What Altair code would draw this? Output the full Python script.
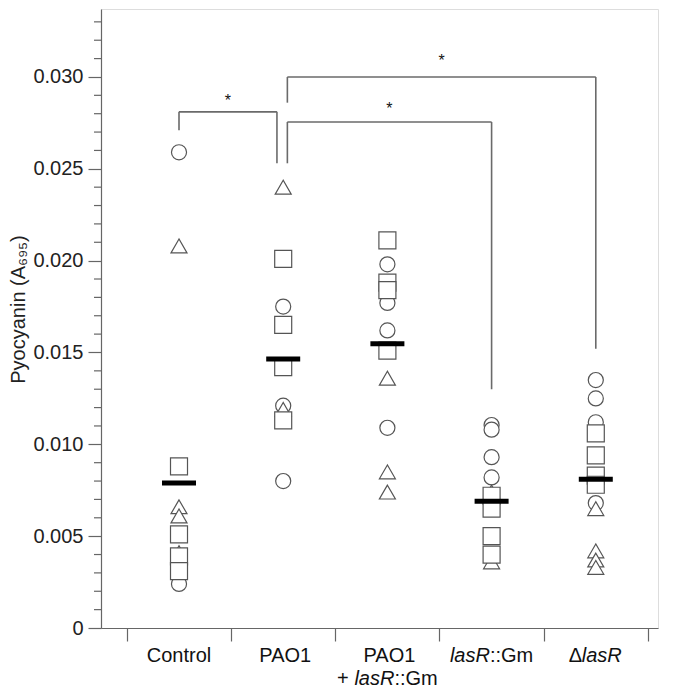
import altair as alt
import pandas as pd

# ---------------- data ----------------
categories = ["Control", "PAO1", "PAO1 + lasR::Gm", "lasR::Gm", "ΔlasR"]
cat_index = [1, 2, 3, 4, 5]

circle_vals = [
    [0.0259, 0.0024],
    [0.0175, 0.0121, 0.0080],
    [0.0198, 0.0177, 0.0162, 0.0109],
    [0.01105, 0.0108, 0.0093, 0.0082],
    [0.0135, 0.0125, 0.0112, 0.0068],
]
triangle_vals = [
    [0.0208, 0.0066, 0.0061, 0.0041],
    [0.0240, 0.0119],
    [0.0136, 0.0085, 0.0074],
    [0.0074, 0.0036],
    [0.0065, 0.0042, 0.0037, 0.0033],
]
square_vals = [
    [0.0088, 0.0051, 0.0039, 0.0031],
    [0.0201, 0.0165, 0.0142, 0.0113],
    [0.0211, 0.0188, 0.0184, 0.0151],
    [0.0072, 0.0065, 0.0050, 0.0040],
    [0.0106, 0.0094, 0.0083, 0.0078],
]
mean_vals = [0.0079, 0.01465, 0.01548, 0.0069, 0.0081]

# significance brackets: left x, right x, top y, left leg bottom, right leg bottom
bracket_left = [1.0, 2.04, 2.04]
bracket_right = [1.94, 4.0, 5.0]
bracket_top = [0.0281, 0.02755, 0.0300]
bracket_left_bottom = [0.0271, 0.0253, 0.0286]
bracket_right_bottom = [0.0253, 0.0130, 0.0152]
star_x = [1.47, 3.02, 3.52]
star_y = [0.0289, 0.02848, 0.0311]

y_major = [0, 0.005, 0.010, 0.015, 0.020, 0.025, 0.030]
y_minor = [i / 1000 for i in range(1, 34) if i % 5 != 0]
x_bounds = [0.5, 1.5, 2.5, 3.5, 4.5, 5.5]

# ---------------- tables ----------------
def long(vals):
    rows = []
    for ci, vs in zip(cat_index, vals):
        for v in vs:
            rows.append({"x": ci, "y": v})
    return pd.DataFrame(rows)

df_c = long(circle_vals)
df_t = long(triangle_vals)
df_s = long(square_vals)
df_m = pd.DataFrame({"x": cat_index, "y": mean_vals})

seg = []
for xl, xr, yt, ylb, yrb in zip(bracket_left, bracket_right, bracket_top,
                                bracket_left_bottom, bracket_right_bottom):
    seg.append({"x": xl, "x2": xr, "y": yt, "y2": yt})
    seg.append({"x": xl, "x2": xl, "y": yt, "y2": ylb})
    seg.append({"x": xr, "x2": xr, "y": yt, "y2": yrb})
df_seg = pd.DataFrame(seg)
df_star = pd.DataFrame({"x": star_x, "y": star_y, "t": ["*"] * 3})
df_minor = pd.DataFrame({"y": y_minor})

# label fragments (category, line, text, italic, dx)
frag = [
    (1, 1, "Control", "normal", -32.2),
    (2, 1, "PAO1", "normal", -23.9),
    (3, 1, "PAO1", "normal", -23.9),
    (3, 2, "+", "normal", -50.3),
    (3, 2, "lasR", "italic", -33.0),
    (3, 2, "::Gm", "normal", 7.0),
    (4, 1, "lasR", "italic", -41.7),
    (4, 1, "::Gm", "normal", -1.7),
    (5, 1, "Δ", "normal", -27.0),
    (5, 1, "lasR", "italic", -14.0),
]

W, H = 557, 619
xs = alt.Scale(domain=[0.2514, 5.597], nice=False, zero=False)
ys = alt.Scale(domain=[0, 0.0337], nice=False, zero=True)
FONT = "Liberation Sans"
MSTROKE = "#555555"

base_x = alt.X("x:Q", scale=xs,
               axis=alt.Axis(values=x_bounds, labels=False, tickSize=13, title=None,
                             grid=False, tickColor="#666666", domainColor="#666666",
                             tickWidth=1.2, domainWidth=1.2))
base_y = alt.Y("y:Q", scale=ys,
               axis=alt.Axis(values=y_major, tickSize=13, grid=False,
                             labelExpr="datum.value == 0 ? '0' : format(datum.value, '.3f')",
                             title="Pyocyanin (A₆₉₅)", titlePadding=4, titleY=300,
                             titleFontSize=20, titleFontWeight="normal", titleFont=FONT,
                             titleColor="#222222",
                             labelFontSize=20, labelFont=FONT, labelColor="#222222",
                             labelPadding=5, tickColor="#666666", domainColor="#666666",
                             tickWidth=1.2, domainWidth=1.2))

minor = alt.Chart(df_minor).mark_rule(color="#666666", strokeWidth=1.2).encode(
    y=alt.Y("y:Q", scale=ys), x=alt.value(-7), x2=alt.value(0))

brackets = alt.Chart(df_seg).mark_rule(color="#6a6a6a", strokeWidth=1.6).encode(
    x=base_x, x2="x2:Q", y=base_y, y2="y2:Q")

stars = alt.Chart(df_star).mark_text(font=FONT, fontSize=16, baseline="alphabetic",
                                     dy=9, color="#111111").encode(
    x=alt.X("x:Q", scale=xs), y=alt.Y("y:Q", scale=ys), text="t:N")

def pts(df, shape, size):
    return alt.Chart(df).mark_point(shape=shape, size=size, filled=True, fill="white",
                                    stroke=MSTROKE, strokeWidth=1.2, opacity=1).encode(
        x=alt.X("x:Q", scale=xs), y=alt.Y("y:Q", scale=ys))

circles = pts(df_c, "circle", 227)
triangles = pts(df_t, "triangle-up", 256)
squares = pts(df_s, "square", 289)

means = alt.Chart(df_m).mark_tick(orient="horizontal", thickness=5, size=34,
                                  color="black", opacity=1).encode(
    x=alt.X("x:Q", scale=xs), y=alt.Y("y:Q", scale=ys))

label_layers = []
for ci, line, txt, style, dx in frag:
    dfl = pd.DataFrame({"x": [ci], "t": [txt]})
    label_layers.append(
        alt.Chart(dfl).mark_text(font=FONT, fontSize=20, fontStyle=style, align="left",
                                 baseline="alphabetic", dx=dx, color="#111111").encode(
            x=alt.X("x:Q", scale=xs),
            y=alt.value(653 if line == 1 else 676),
            text="t:N"))

chart = alt.layer(brackets, minor, stars, circles, triangles, squares, means,
                  *label_layers).properties(
    width=W, height=H,
    autosize=alt.AutoSizeParams(type="none"),
    padding={"left": 93, "top": 1, "right": 10, "bottom": 62},
).configure_view(stroke="#777777", strokeWidth=1.2).configure(background="white")

chart.save("out.html", embed_options={"renderer": "svg", "actions": False})
